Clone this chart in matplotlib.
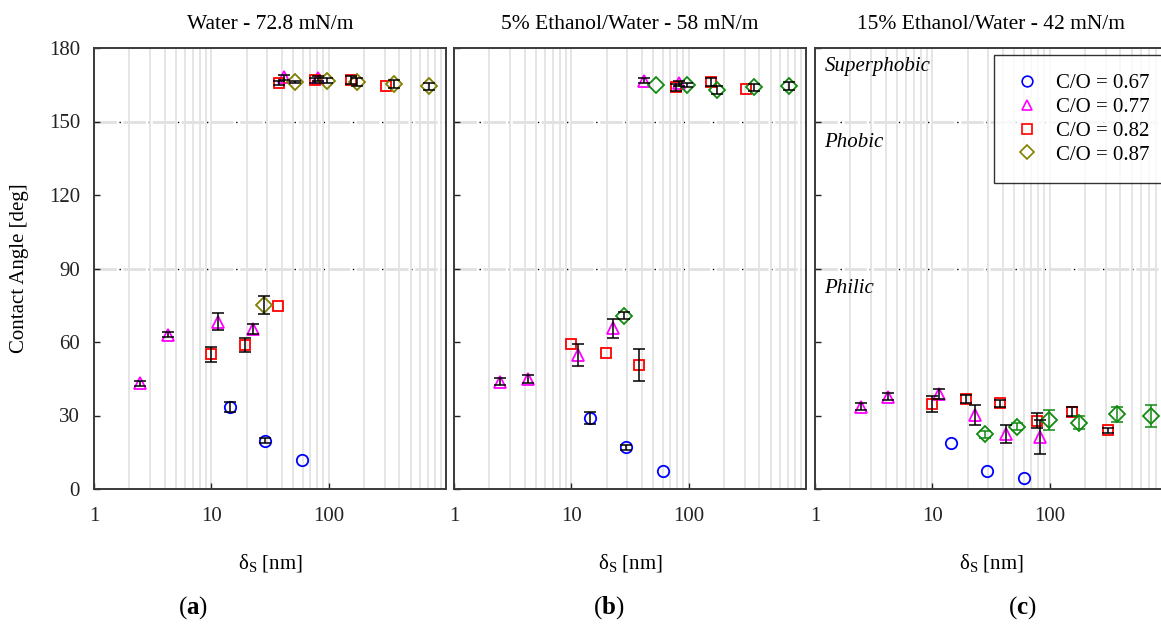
import matplotlib
matplotlib.use("Agg")
import matplotlib.pyplot as plt
import numpy as np
from matplotlib.lines import Line2D

plt.rcParams["font.family"] = ["Liberation Serif", "DejaVu Serif"]
plt.rcParams["mathtext.fontset"] = "custom"
plt.rcParams["mathtext.rm"] = "Liberation Serif"
plt.rcParams["mathtext.bf"] = "Liberation Serif:bold"
plt.rcParams["mathtext.it"] = "Liberation Serif:italic"

# ---- data: (x = delta_S in nm, y = contact angle, err = +/- deg) ----
titles = ["Water - 72.8 mN/m", "5% Ethanol/Water - 58 mN/m", "15% Ethanol/Water - 42 mN/m"]
panel_tags = ["a", "b", "c"]
series_labels = ["C/O = 0.67", "C/O = 0.77", "C/O = 0.82", "C/O = 0.87"]

# panel (a) water
a_co67_x = [14.3, 28.9, 59.3]
a_co67_y = [33.5, 19.7, 11.7]
a_co67_e = [2.0, 1.0, 0.0]
a_co77_x = [2.46, 4.24, 11.3, 22.7, 41.7, 81.1]
a_co77_y = [43.1, 62.9, 68.3, 65.2, 168.0, 167.6]
a_co77_e = [1.0, 1.0, 3.5, 2.0, 1.0, 1.0]
a_co82_x = [9.84, 19.4, 37.3, 37.8, 77.1, 154, 306]
a_co82_y = [55.0, 58.8, 74.8, 165.7, 166.9, 166.9, 164.5]
a_co82_e = [3.0, 3.0, 0.0, 1.0, 1.0, 1.5, 0.0]
a_co87_x = [28.1, 52.1, 97.5, 174, 360, 714]
a_co87_y = [75.1, 166.2, 166.7, 166.1, 165.3, 164.4]
a_co87_e = [3.7, 0.5, 1.0, 1.5, 1.5, 1.5]

# panel (b) 5% ethanol
b_co67_x = [14.5, 29.2, 59.9]
b_co67_y = [28.9, 17.1, 7.5]
b_co67_e = [2.5, 1.0, 0.0]
b_co77_x = [2.48, 4.26, 11.4, 22.6, 41.5, 82.5]
b_co77_y = [43.8, 44.9, 54.7, 65.6, 166.6, 165.6]
b_co77_e = [1.5, 1.5, 4.4, 3.9, 1.0, 1.0]
b_co82_x = [9.98, 19.6, 37.6, 77.8, 155, 307]
b_co82_y = [59.2, 55.4, 50.6, 164.0, 166.1, 163.4]
b_co82_e = [0.0, 0.0, 6.7, 1.5, 1.5, 0.0]
b_co87_x = [27.9, 52.5, 97.3, 174, 362, 721]
b_co87_y = [70.7, 164.9, 164.9, 162.9, 164.0, 164.5]
b_co87_e = [1.5, 0.0, 1.0, 1.5, 1.5, 1.5]

# panel (c) 15% ethanol
c_co67_x = [14.4, 29.1, 60.3]
c_co67_y = [18.6, 7.5, 4.6]
c_co67_e = [0.0, 0.0, 0.0]
c_co77_x = [2.46, 4.23, 11.5, 22.9, 42.1, 82.6]
c_co77_y = [33.6, 37.7, 38.8, 30.2, 22.4, 21.3]
c_co77_e = [1.5, 1.5, 2.2, 3.9, 3.7, 7.0]
c_co82_x = [9.94, 19.5, 37.6, 78.5, 156, 313]
c_co82_y = [34.6, 36.7, 35.0, 27.8, 31.6, 24.0]
c_co82_e = [3.2, 1.5, 1.5, 3.1, 2.0, 1.0]
c_co87_x = [28.0, 53.0, 98.0, 177, 374, 730]
c_co87_y = [22.3, 25.4, 28.2, 27.1, 30.5, 29.8]
c_co87_e = [1.5, 1.5, 4.1, 2.5, 3.0, 4.3]

panels = [
    [(a_co67_x, a_co67_y, a_co67_e), (a_co77_x, a_co77_y, a_co77_e),
     (a_co82_x, a_co82_y, a_co82_e), (a_co87_x, a_co87_y, a_co87_e)],
    [(b_co67_x, b_co67_y, b_co67_e), (b_co77_x, b_co77_y, b_co77_e),
     (b_co82_x, b_co82_y, b_co82_e), (b_co87_x, b_co87_y, b_co87_e)],
    [(c_co67_x, c_co67_y, c_co67_e), (c_co77_x, c_co77_y, c_co77_e),
     (c_co82_x, c_co82_y, c_co82_e), (c_co87_x, c_co87_y, c_co87_e)],
]

markers = ["o", "^", "s", "D"]
msizes = [8.2, 8.0, 7.4, 8.0]
# diamond colour changes between panel (a) and panels (b),(c)
colors_per_panel = [
    ["#0000ff", "#ff00ff", "#ff0000", "#808000"],
    ["#0000ff", "#ff00ff", "#ff0000", "#108a10"],
    ["#0000ff", "#ff00ff", "#ff0000", "#108a10"],
]
errcolors_per_panel = [
    ["black", "black", "black", "black"],
    ["black", "black", "black", "black"],
    ["black", "black", "black", "#108a10"],
]

W, H = 1161, 626
fig = plt.figure(figsize=(W / 100, H / 100), dpi=100)

lefts = [94, 454, 815]
ax_w = 352
ax_bottom, ax_top = 489, 48
label_x = [193, 609, 1022]

axes = []
for i in range(3):
    ax = fig.add_axes([lefts[i] / W, 1 - ax_bottom / H, ax_w / W, (ax_bottom - ax_top) / H])
    axes.append(ax)
    ax.set_xscale("log")
    ax.set_xlim(1, 1000)
    ax.set_ylim(0, 180)
    ax.set_yticks(np.arange(0, 181, 30))
    ax.set_xticks([1, 10, 100])
    ax.set_xticklabels(["1", "10", "100"])
    ax.xaxis.set_minor_locator(matplotlib.ticker.LogLocator(base=10, subs=np.arange(2, 10)))
    ax.xaxis.set_minor_formatter(matplotlib.ticker.NullFormatter())
    ax.grid(True, which="both", axis="x", color="#e3e3e3", lw=1.3, zorder=0)
    ax.tick_params(axis="both", which="major", direction="in", length=4, width=1,
                   labelsize=15, pad=10, colors="#222222")
    ax.tick_params(axis="x", which="major", pad=13)
    ax.tick_params(axis="x", which="minor", length=0)
    if i > 0:
        ax.tick_params(axis="y", labelleft=False)
    for sp in ax.spines.values():
        sp.set_color("#3a3a3a")
        sp.set_linewidth(1.4)

    # regime boundaries at 90 and 150 deg
    for yb in (90, 150):
        ax.axhline(yb, color="#e0e0e0", lw=2, linestyle=(0, (8, 2.5)), zorder=1)
        ax.axhline(yb, color="black", lw=1, linestyle=(3, (1, 20)), zorder=1)

    for k, (xs, ys, es) in enumerate(panels[i]):
        xs = np.array(xs)
        ys = np.array(ys)
        es = np.array(es)
        ax.plot(xs, ys, linestyle="none", marker=markers[k], markersize=msizes[k],
                markerfacecolor="none", markeredgecolor=colors_per_panel[i][k],
                markeredgewidth=1.3, zorder=3)
        m = es > 0
        if m.any():
            ax.errorbar(xs[m], ys[m], yerr=es[m], fmt="none", ecolor=errcolors_per_panel[i][k],
                        elinewidth=1.1, capsize=4.5, capthick=1.1, zorder=4)

    ax.set_title(titles[i], fontsize=15.5, pad=14)
    cx = (lefts[i] + ax_w / 2) / W
    fig.text(cx, 1 - 563 / H, "δ$_{\\mathregular{S}}$ [nm]", fontsize=15, ha="center", va="center")
    fig.text(label_x[i] / W, 1 - 608 / H, "($\\mathbf{%s}$)" % panel_tags[i], fontsize=18,
             ha="center", va="center")

fig.text(20 / W, 1 - 268.5 / H, "Contact Angle [deg]", rotation=90, fontsize=15,
         ha="center", va="center")

# regime names on panel (c)
axc = axes[2]
for name, yv in (("Superphobic", 172.5), ("Phobic", 141.5), ("Philic", 82.0)):
    axc.text(1.2, yv, name, fontsize=15, fontstyle="italic", ha="left", va="center", zorder=5)

handles = [Line2D([], [], linestyle="none", marker=markers[k], markersize=msizes[k] - 0.5,
                  markerfacecolor="none", markeredgecolor=colors_per_panel[0][k],
                  markeredgewidth=1.2) for k in range(4)]
leg = fig.legend(handles, series_labels, loc="upper left",
                 bbox_to_anchor=(994 / W, 1 - 55 / H), fontsize=15, frameon=True,
                 fancybox=False, edgecolor="black", borderpad=0.9, labelspacing=0.2,
                 handletextpad=0.7, handlelength=1.4, borderaxespad=0)
leg.get_frame().set_linewidth(1.0)

fig.savefig("out.png", dpi=100)
